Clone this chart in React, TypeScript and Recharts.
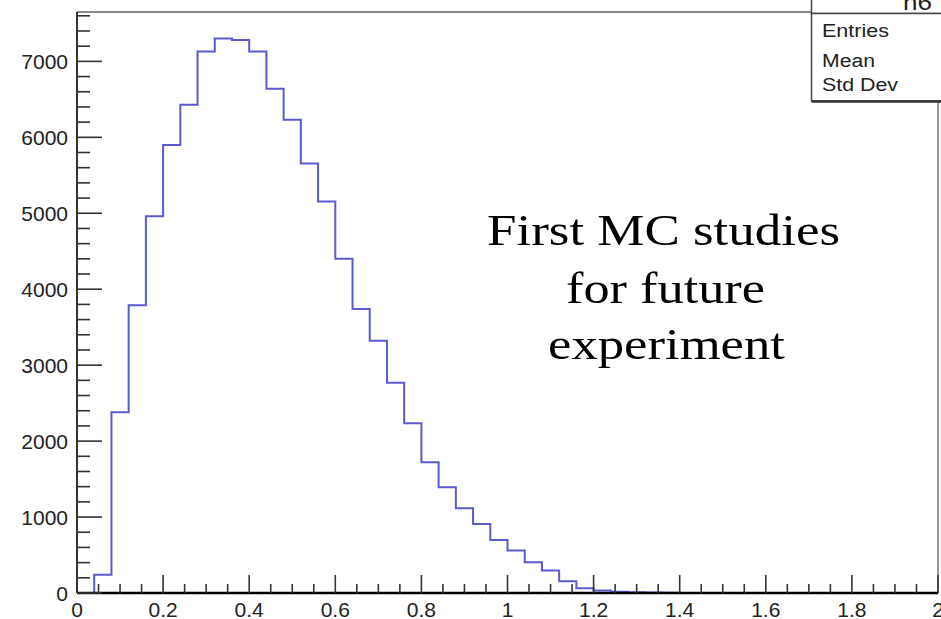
import React from "react";
import { LineChart, Line, XAxis, YAxis, ReferenceLine } from "recharts";

// lower bin edges (0.04 wide bins, 0..2) plus the closing edge
const binEdges = [
  0, 0.04, 0.08, 0.12, 0.16, 0.2, 0.24, 0.28, 0.32, 0.36,
  0.4, 0.44, 0.48, 0.52, 0.56, 0.6, 0.64, 0.68, 0.72, 0.76,
  0.8, 0.84, 0.88, 0.92, 0.96, 1, 1.04, 1.08, 1.12, 1.16,
  1.2, 1.24, 1.28, 1.32, 1.36, 1.4, 1.44, 1.48, 1.52, 1.56,
  1.6, 1.64, 1.68, 1.72, 1.76, 1.8, 1.84, 1.88, 1.92, 1.96, 2,
];

// entries per bin (last value repeats the final bin for the step line)
const binCounts = [
  0, 240, 2380, 3790, 4960, 5900, 6430, 7130, 7300, 7280,
  7130, 6640, 6230, 5655, 5155, 4400, 3740, 3320, 2770, 2235,
  1722, 1393, 1116, 910, 698, 560, 405, 295, 155, 62,
  32, 18, 10, 5, 3, 1, 0, 0, 0, 0,
  0, 0, 0, 0, 0, 0, 0, 0, 0, 0, 0,
];

const xTicks = [
  0, 0.05, 0.1, 0.15, 0.2, 0.25, 0.3, 0.35, 0.4, 0.45,
  0.5, 0.55, 0.6, 0.65, 0.7, 0.75, 0.8, 0.85, 0.9, 0.95,
  1, 1.05, 1.1, 1.15, 1.2, 1.25, 1.3, 1.35, 1.4, 1.45,
  1.5, 1.55, 1.6, 1.65, 1.7, 1.75, 1.8, 1.85, 1.9, 1.95, 2,
];
const xLabels = [0, 0.2, 0.4, 0.6, 0.8, 1, 1.2, 1.4, 1.6, 1.8, 2];

const yTicks = [
  0, 200, 400, 600, 800, 1000, 1200, 1400, 1600, 1800,
  2000, 2200, 2400, 2600, 2800, 3000, 3200, 3400, 3600, 3800,
  4000, 4200, 4400, 4600, 4800, 5000, 5200, 5400, 5600, 5800,
  6000, 6200, 6400, 6600, 6800, 7000, 7200, 7400, 7600,
];
const yLabels = [0, 1000, 2000, 3000, 4000, 5000, 6000, 7000];

const Y_MAX = 7650;

const statLabels = ["Entries", "Mean", "Std Dev"];
const noteLines = ["First MC studies", "for future", "experiment"];

const data = binEdges.map((x, i) => ({ x, count: binCounts[i] }));

const AXIS_FONT = "'Liberation Sans', Arial, Helvetica, sans-serif";
const TICK_COLOR = "#333";

function isLabel(list: number[], v: number) {
  return list.some((l) => Math.abs(l - v) < 1e-6);
}

function YTick(props: any) {
  const { x, y, payload } = props;
  const major = isLabel(yLabels, payload.value);
  return (
    <g>
      <line x1={x} x2={x + (major ? 25 : 13)} y1={y} y2={y} stroke={TICK_COLOR} strokeWidth={1.6} />
      {major && (
        <text x={x - 9} y={y} dy="0.36em" textAnchor="end" fontSize={21} fontFamily={AXIS_FONT} fill="#222">
          {payload.value}
        </text>
      )}
    </g>
  );
}

function XTick(props: any) {
  const { x, y, payload } = props;
  const major = isLabel(xLabels, payload.value);
  return (
    <g>
      <line x1={x} x2={x} y1={y} y2={y - (major ? 18 : 9)} stroke={TICK_COLOR} strokeWidth={1.6} />
      {major && (
        <text x={x} y={y + 24} textAnchor="middle" fontSize={21} fontFamily={AXIS_FONT} fill="#222">
          {payload.value}
        </text>
      )}
    </g>
  );
}

export default function App() {
  return (
    <div style={{ position: "absolute", left: 0, top: 0, width: 941, height: 619, background: "#fff" }}>
      <LineChart width={941} height={619} data={data} margin={{ top: 12, right: 3, left: 0, bottom: 0 }}>
        <XAxis
          dataKey="x"
          type="number"
          domain={[0, 2]}
          ticks={xTicks}
          interval={0}
          tickSize={0}
          tickMargin={0}
          tickLine={false}
          tick={<XTick />}
          height={26}
          axisLine={{ stroke: "#000", strokeWidth: 2.5 }}
        />
        <YAxis
          type="number"
          domain={[0, Y_MAX]}
          ticks={yTicks}
          interval={0}
          tickSize={0}
          tickMargin={0}
          tickLine={false}
          tick={<YTick />}
          width={77}
          axisLine={{ stroke: "#333", strokeWidth: 2 }}
        />
        <ReferenceLine y={Y_MAX} stroke="#888" strokeWidth={2} />
        <ReferenceLine x={2} stroke="#777" strokeWidth={1.5} />
        <Line
          type="stepAfter"
          dataKey="count"
          stroke="#5a5ad2"
          strokeWidth={2}
          dot={false}
          isAnimationActive={false}
        />
      </LineChart>
      <svg
        width={941}
        height={619}
        style={{ position: "absolute", left: 0, top: 0, pointerEvents: "none" }}
      >
        {/* statistics box, clipped by the top of the picture */}
        <rect x={811.5} y={-20} width={140} height={33.5} fill="#fff" stroke="#444" strokeWidth={1.5} />
        <text x={903} y={10} fontSize={22} fontFamily={AXIS_FONT} fill="#222" textLength={29} lengthAdjust="spacingAndGlyphs">
          h6
        </text>
        <rect x={811.5} y={13.5} width={140} height={87.5} fill="#fff" stroke="#444" strokeWidth={1.5} />
        <line x1={811.5} x2={941} y1={101.5} y2={101.5} stroke="#333" strokeWidth={2.5} />
        {statLabels.map((s, i) => (
          <text
            key={s}
            x={822}
            y={[37, 66.5, 91][i]}
            fontSize={18}
            fontFamily={AXIS_FONT}
            fill="#222"
            textLength={[67, 53, 76][i]}
            lengthAdjust="spacingAndGlyphs"
          >
            {s}
          </text>
        ))}
        {/* annotation */}
        {noteLines.map((s, i) => (
          <text
            key={s}
            x={[487, 566, 548][i]}
            y={[245, 303, 359][i]}
            fontSize={45}
            fontFamily="'Liberation Serif', 'Times New Roman', serif"
            fill="#000"
            textLength={[353, 199, 237][i]}
            lengthAdjust="spacingAndGlyphs"
          >
            {s}
          </text>
        ))}
      </svg>
    </div>
  );
}
